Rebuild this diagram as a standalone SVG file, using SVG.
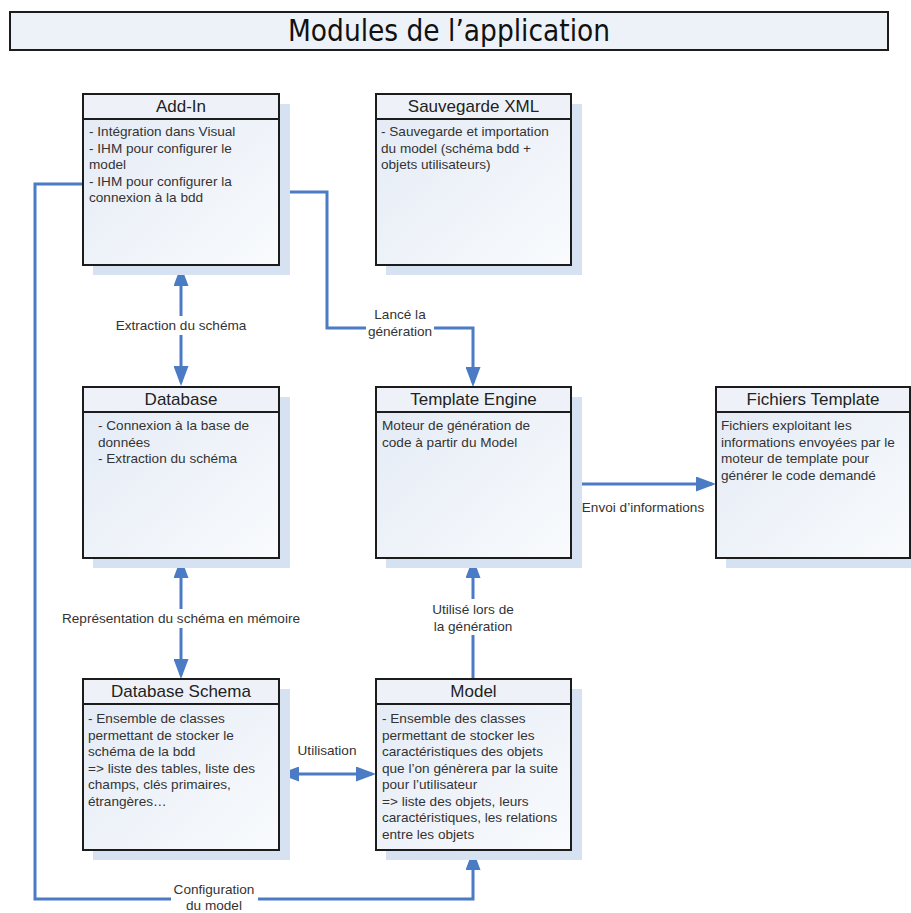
<svg xmlns="http://www.w3.org/2000/svg" width="911" height="913" viewBox="0 0 911 913">
  <defs>
    <linearGradient id="bodyFill" x1="0" y1="0" x2="1" y2="1">
      <stop offset="0" stop-color="#e3eaf5"/>
      <stop offset="1" stop-color="#f9fbfd"/>
    </linearGradient>
    <marker id="arrow" viewBox="0 0 20 15" refX="16" refY="7.5" markerWidth="20" markerHeight="15" markerUnits="userSpaceOnUse" orient="auto-start-reverse">
      <path d="M0,0 L20,7.5 L0,15 z" fill="#4a7bc4"/>
    </marker>
  </defs>
  <style>
    .shadow { fill: #d6e1f1; }
    .box { fill: url(#bodyFill); stroke: #1c1c1c; stroke-width: 2; }
    .head { fill: #eef2f8; stroke: #1c1c1c; stroke-width: 2; }
    .title { font-family: "Liberation Sans Narrow", "DejaVu Sans Condensed", "DejaVu Sans", sans-serif; font-stretch: condensed; font-size: 31px; fill: #111; }
    .htext { font-family: "Liberation Sans", Arial, sans-serif; font-size: 17px; fill: #222; text-anchor: middle; }
    .btext { font-family: "Liberation Sans", Arial, sans-serif; font-size: 13.6px; fill: #333; }
    .ltext { font-family: "Liberation Sans", Arial, sans-serif; font-size: 13.6px; fill: #333; text-anchor: middle; }
    .wire { fill: none; stroke: #4a7bc4; stroke-width: 3; }
    .lbg { fill: #ffffff; }
  </style>

  <rect width="911" height="913" fill="#ffffff"/>

  <!-- title banner -->
  <g id="title">
    <rect x="10" y="12" width="878" height="38" fill="#edf1f8" stroke="#1c1c1c" stroke-width="2"/>
    <text class="title" x="449" y="41" text-anchor="middle" textLength="322" lengthAdjust="spacingAndGlyphs">Modules de l’application</text>
  </g>

  <!-- connectors -->
  <g id="connectors">
    <path class="wire" d="M181,270 V382" marker-start="url(#arrow)" marker-end="url(#arrow)"/>
    <path class="wire" d="M279,192 H327 V328 H473 V383" marker-end="url(#arrow)"/>
    <path class="wire" d="M181,562 V675" marker-start="url(#arrow)" marker-end="url(#arrow)"/>
    <path class="wire" d="M473,679 V562" marker-end="url(#arrow)"/>
    <path class="wire" d="M571,484 H712" marker-end="url(#arrow)"/>
    <path class="wire" d="M283,774 H372" marker-start="url(#arrow)" marker-end="url(#arrow)"/>
    <path class="wire" d="M83,184 H35 V899 H473 V854" marker-end="url(#arrow)"/>

    <rect class="lbg" x="114" y="316" width="134" height="19"/>
    <text class="ltext" x="181" y="330">Extraction du schéma</text>

    <rect class="lbg" x="366" y="304" width="68" height="35"/>
    <text class="ltext" x="400" y="319">Lancé la</text>
    <text class="ltext" x="400" y="336">génération</text>

    <rect class="lbg" x="58" y="609" width="246" height="19"/>
    <text class="ltext" x="181" y="623">Représentation du schéma en mémoire</text>

    <rect class="lbg" x="428" y="599" width="90" height="36"/>
    <text class="ltext" x="473" y="614">Utilisé lors de</text>
    <text class="ltext" x="473" y="631">la génération</text>

    <text class="ltext" x="643" y="512">Envoi d’informations</text>

    <text class="ltext" x="327" y="755">Utilisation</text>

    <rect class="lbg" x="171" y="880" width="87" height="33"/>
    <text class="ltext" x="214" y="894">Configuration</text>
    <text class="ltext" x="214" y="910">du model</text>
  </g>

  <!-- Add-In -->
  <g id="add-in">
    <rect class="shadow" x="93" y="104" width="197" height="171"/>
    <rect class="box" x="83" y="94" width="196" height="171"/>
    <rect class="head" x="83" y="94" width="196" height="25"/>
    <text class="htext" x="181" y="112">Add-In</text>
    <text class="btext" x="89" y="136">- Intégration dans Visual</text>
    <text class="btext" x="89" y="152.5">- IHM pour configurer le</text>
    <text class="btext" x="89" y="169">model</text>
    <text class="btext" x="89" y="185.5">- IHM pour configurer la</text>
    <text class="btext" x="89" y="202">connexion à la bdd</text>
  </g>

  <!-- Sauvegarde XML -->
  <g id="sauvegarde-xml">
    <rect class="shadow" x="386" y="104" width="196" height="171"/>
    <rect class="box" x="376" y="94" width="195" height="171"/>
    <rect class="head" x="376" y="94" width="195" height="25"/>
    <text class="htext" x="473.5" y="112">Sauvegarde XML</text>
    <text class="btext" x="381" y="136">- Sauvegarde et importation</text>
    <text class="btext" x="381" y="152.5">du model (schéma bdd +</text>
    <text class="btext" x="381" y="169">objets utilisateurs)</text>
  </g>

  <!-- Database -->
  <g id="database">
    <rect class="shadow" x="93" y="397" width="197" height="171"/>
    <rect class="box" x="83" y="387" width="196" height="171"/>
    <rect class="head" x="83" y="387" width="196" height="25"/>
    <text class="htext" x="181" y="405">Database</text>
    <text class="btext" x="98" y="430">- Connexion à la base de</text>
    <text class="btext" x="98" y="446.5">données</text>
    <text class="btext" x="98" y="463">- Extraction du schéma</text>
  </g>

  <!-- Template Engine -->
  <g id="template-engine">
    <rect class="shadow" x="386" y="397" width="196" height="171"/>
    <rect class="box" x="376" y="387" width="195" height="171"/>
    <rect class="head" x="376" y="387" width="195" height="25"/>
    <text class="htext" x="473.5" y="405">Template Engine</text>
    <text class="btext" x="382" y="430">Moteur de génération de</text>
    <text class="btext" x="382" y="446.5">code à partir du Model</text>
  </g>

  <!-- Fichiers Template -->
  <g id="fichiers-template">
    <rect class="shadow" x="726" y="397" width="196" height="171"/>
    <rect class="box" x="716" y="387" width="194" height="171"/>
    <rect class="head" x="716" y="387" width="194" height="25"/>
    <text class="htext" x="813" y="405">Fichiers Template</text>
    <text class="btext" x="721" y="430">Fichiers exploitant les</text>
    <text class="btext" x="721" y="446.5">informations envoyées par le</text>
    <text class="btext" x="721" y="463">moteur de template pour</text>
    <text class="btext" x="721" y="479.5">générer le code demandé</text>
  </g>

  <!-- Database Schema -->
  <g id="database-schema">
    <rect class="shadow" x="93" y="689" width="197" height="171"/>
    <rect class="box" x="83" y="679" width="196" height="171"/>
    <rect class="head" x="83" y="679" width="196" height="25"/>
    <text class="htext" x="181" y="697">Database Schema</text>
    <text class="btext" x="88" y="723">- Ensemble de classes</text>
    <text class="btext" x="88" y="739.5">permettant de stocker le</text>
    <text class="btext" x="88" y="756">schéma de la bdd</text>
    <text class="btext" x="88" y="772.5">=&gt; liste des tables, liste des</text>
    <text class="btext" x="88" y="789">champs, clés primaires,</text>
    <text class="btext" x="88" y="805.5">étrangères…</text>
  </g>

  <!-- Model -->
  <g id="model">
    <rect class="shadow" x="386" y="689" width="196" height="171"/>
    <rect class="box" x="376" y="679" width="195" height="171"/>
    <rect class="head" x="376" y="679" width="195" height="25"/>
    <text class="htext" x="473.5" y="697">Model</text>
    <text class="btext" x="382" y="723">- Ensemble des classes</text>
    <text class="btext" x="382" y="739.5">permettant de stocker les</text>
    <text class="btext" x="382" y="756">caractéristiques des objets</text>
    <text class="btext" x="382" y="772.5">que l’on génèrera par la suite</text>
    <text class="btext" x="382" y="789">pour l’utilisateur</text>
    <text class="btext" x="382" y="805.5">=&gt; liste des objets, leurs</text>
    <text class="btext" x="382" y="822">caractéristiques, les relations</text>
    <text class="btext" x="382" y="838.5">entre les objets</text>
  </g>
</svg>
